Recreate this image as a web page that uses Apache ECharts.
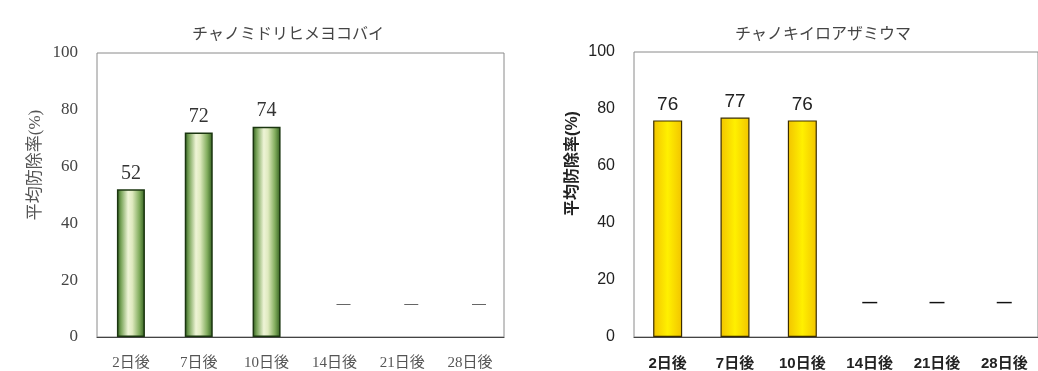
<!DOCTYPE html>
<html>
<head>
<meta charset="utf-8">
<script src="https://cdn.jsdelivr.net/npm/echarts@6/dist/echarts.min.js"></script>
<style>
  html, body { margin: 0; padding: 0; background: #fff; }
  #chart { width: 1038px; height: 371px; }
</style>
</head>
<body>
<div id="chart"></div>
<script>
// Days after treatment
const categories = ['2日後', '7日後', '10日後', '14日後', '21日後', '28日後'];
// Mean control rate (%) — 0 marks a period shown as "—"
const leafhopperValues = [52, 72, 74, 0, 0, 0];
const thripsValues = [76, 77, 76, 0, 0, 0];
const leafhopperTitle = 'チャノミドリヒメヨコバイ';
const thripsTitle = 'チャノキイロアザミウマ';
const yAxisName = '平均防除率(%)';

const serif = '"Liberation Serif", "DejaVu Serif", "Noto Sans CJK JP", serif';
const sans = '"Liberation Sans", Arial, "Noto Sans CJK JP", sans-serif';

// Bars with value 0 are not drawn; they carry a dash label instead.
function buildData(values, dashStyle) {
  return values.map(v => v === 0
    ? { value: 0, itemStyle: { color: 'transparent', borderWidth: 0 }, label: Object.assign({ show: true, formatter: '—' }, dashStyle) }
    : v);
}

const greenBar = {
  type: 'linear', x: 0, y: 0, x2: 1, y2: 0,
  colorStops: [
    { offset: 0, color: '#2f5c1c' },
    { offset: 0.15, color: '#7aa55a' },
    { offset: 0.4, color: '#eef4d6' },
    { offset: 0.55, color: '#dfeabf' },
    { offset: 0.8, color: '#82ad5e' },
    { offset: 1, color: '#2f5c1c' }
  ]
};
const yellowBar = {
  type: 'linear', x: 0, y: 0, x2: 1, y2: 0,
  colorStops: [
    { offset: 0, color: '#f2c400' },
    { offset: 0.5, color: '#fff000' },
    { offset: 1, color: '#f2c400' }
  ]
};

const chart = echarts.init(document.getElementById('chart'));
chart.setOption({
  animation: false,
  backgroundColor: '#ffffff',
  title: [
    { text: leafhopperTitle, left: 283, top: 22, textAlign: 'center',
      textStyle: { fontFamily: serif, fontSize: 16, fontWeight: 'normal', color: '#444' } },
    { text: thripsTitle, left: 818, top: 22, textAlign: 'center',
      textStyle: { fontFamily: serif, fontSize: 16, fontWeight: 'normal', color: '#444' } }
  ],
  grid: [
    { left: 97, top: 53, width: 407, height: 289, show: true, borderColor: '#8a8a8a', borderWidth: 1, backgroundColor: 'transparent' },
    { left: 634, top: 52, width: 406, height: 289, show: true, borderColor: '#8a8a8a', borderWidth: 1, backgroundColor: 'transparent' }
  ],
  xAxis: [
    { type: 'category', gridIndex: 0, data: categories,
      axisTick: { show: false },
      axisLine: { lineStyle: { color: '#444', width: 1.2 } },
      axisLabel: { margin: 19, fontFamily: serif, fontSize: 15, color: '#555' } },
    { type: 'category', gridIndex: 1, data: categories,
      axisTick: { show: false },
      axisLine: { lineStyle: { color: '#444', width: 1.2 } },
      axisLabel: { margin: 19, fontFamily: sans, fontSize: 15, fontWeight: 'bold', color: '#222' } }
  ],
  yAxis: [
    { type: 'value', gridIndex: 0, min: 0, max: 100, interval: 20,
      splitLine: { show: false }, axisTick: { show: false }, axisLine: { show: false },
      axisLabel: { margin: 19, fontFamily: serif, fontSize: 17, color: '#444' },
      name: yAxisName, nameLocation: 'middle', nameGap: 53, nameRotate: 90,
      nameTextStyle: { fontFamily: serif, fontSize: 17, color: '#555', padding: [0, 0, 0, 60] } },
    { type: 'value', gridIndex: 1, min: 0, max: 100, interval: 20,
      splitLine: { show: false }, axisTick: { show: false }, axisLine: { show: false },
      axisLabel: { margin: 19, fontFamily: sans, fontSize: 16, color: '#222' },
      name: yAxisName, nameLocation: 'middle', nameGap: 53, nameRotate: 90,
      nameTextStyle: { fontFamily: sans, fontSize: 16, fontWeight: 'bold', color: '#222', padding: [0, 0, 0, 62] } }
  ],
  series: [
    { type: 'bar', xAxisIndex: 0, yAxisIndex: 0, barWidth: 28,
      data: buildData(leafhopperValues, { offset: [9, -20], fontSize: 14, color: '#666', fontFamily: sans }),
      itemStyle: { color: greenBar, borderColor: '#1b3610', borderWidth: 1.5 },
      label: { show: true, position: 'top', distance: 6, fontFamily: serif, fontSize: 20, color: '#333' } },
    { type: 'bar', xAxisIndex: 1, yAxisIndex: 1, barWidth: 29,
      data: buildData(thripsValues, { offset: [0, -21], fontSize: 15, fontWeight: 'bold', color: '#111', fontFamily: sans }),
      itemStyle: { color: yellowBar, borderColor: '#3a2c00', borderWidth: 1.2 },
      label: { show: true, position: 'top', distance: 6, fontFamily: sans, fontSize: 19, color: '#222' } }
  ]
});
</script>
</body>
</html>
